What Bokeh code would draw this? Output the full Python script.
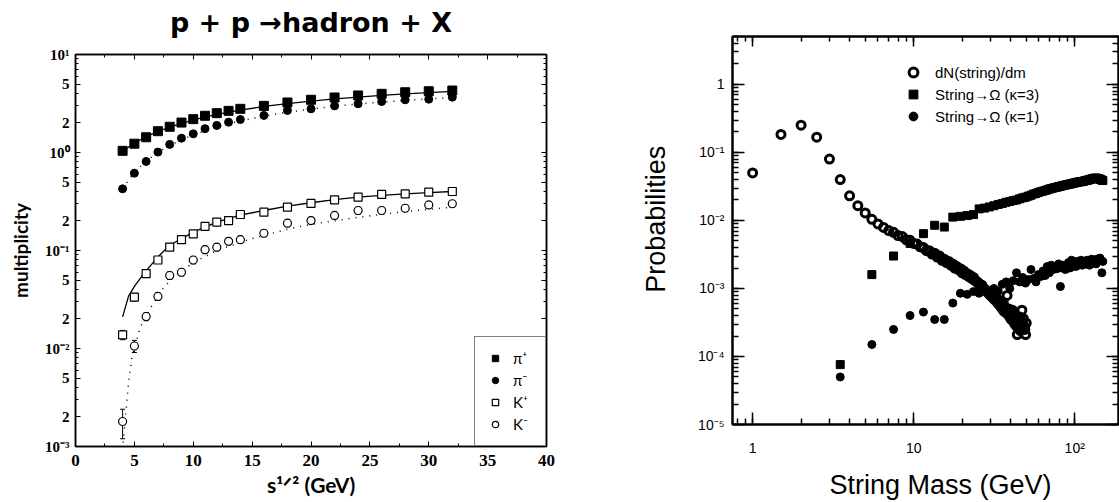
import math
from bokeh.plotting import figure
from bokeh.models import (FixedTicker, LinearAxis, LogAxis, Legend, LegendItem,
                          Whisker, TeeHead, ColumnDataSource, Range1d,
                          CustomJSTickFormatter)
from bokeh.layouts import row
from bokeh.embed import file_html
from bokeh.resources import INLINE

# ---------------- Left panel: p + p -> hadron + X ----------------
title_text = "p + p →hadron + X"
sqrt_s = [4, 5, 6, 7, 8, 9, 10, 11, 12, 13, 14, 16, 18, 20, 22, 24, 26, 28, 30, 32]
pi_plus = [1.04, 1.23, 1.43, 1.65, 1.83, 2.02, 2.19, 2.37, 2.52, 2.66, 2.79, 2.99,
           3.24, 3.45, 3.64, 3.82, 3.97, 4.12, 4.22, 4.29]
pi_minus = [0.426, 0.615, 0.81, 1.01, 1.21, 1.40, 1.55, 1.75, 1.89, 2.04, 2.17, 2.39,
            2.69, 2.79, 2.99, 3.14, 3.31, 3.45, 3.50, 3.67]
k_plus = [0.0138, 0.0334, 0.058, 0.080, 0.108, 0.129, 0.148, 0.176, 0.195, 0.202, 0.233,
          0.246, 0.277, 0.302, 0.329, 0.350, 0.373, 0.378, 0.394, 0.400]
k_plus_err = [0.0015, 0.003, 0.005, 0.006, 0.008, 0.009, 0.010, 0.012, 0.013, 0.013, 0.015,
              0.016, 0.018, 0.019, 0.021, 0.022, 0.023, 0.024, 0.025, 0.025]
k_minus = [0.0018, 0.0106, 0.0212, 0.034, 0.0556, 0.060, 0.080, 0.102, 0.108, 0.124, 0.129,
           0.150, 0.190, 0.202, 0.228, 0.256, 0.256, 0.270, 0.292, 0.300]
k_minus_err = [0.0006, 0.0015, 0.002, 0.003, 0.005, 0.005, 0.007, 0.009, 0.009, 0.010, 0.011,
               0.012, 0.015, 0.016, 0.018, 0.020, 0.020, 0.021, 0.023, 0.024]

model_pi_x = [4, 5, 6, 7, 8, 10, 12, 14, 16, 18, 20, 22, 24, 26, 28, 30, 32]
model_pi_plus = [1.03, 1.25, 1.45, 1.63, 1.82, 2.15, 2.45, 2.70, 2.95, 3.15, 3.35, 3.52,
                 3.68, 3.83, 3.97, 4.08, 4.20]
model_pi_minus = [0.43, 0.63, 0.82, 1.00, 1.18, 1.52, 1.82, 2.10, 2.35, 2.58, 2.78, 2.96,
                  3.12, 3.27, 3.40, 3.52, 3.63]
model_kp_x = [4, 4.5, 5, 5.8, 7, 8, 10, 12, 14, 16, 18, 20, 22, 24, 26, 28, 30, 32]
model_kp = [0.021, 0.034, 0.043, 0.058, 0.086, 0.113, 0.154, 0.195, 0.230, 0.256, 0.283,
            0.307, 0.330, 0.350, 0.366, 0.378, 0.390, 0.400]
model_km_x = [4.05, 4.5, 4.8, 5.5, 6.4, 7.5, 8.5, 10, 12, 14.6, 18, 20, 24, 28, 32]
model_km = [0.0011, 0.0044, 0.0082, 0.0165, 0.0263, 0.042, 0.056, 0.075, 0.100, 0.128,
            0.165, 0.185, 0.218, 0.250, 0.277]

left_legend_labels = ["π⁺", "π⁻", "K⁺", "K⁻"]
left_x_ticks = [0, 5, 10, 15, 20, 25, 30, 35, 40]
left_y_ticks = [0.001, 0.002, 0.005, 0.01, 0.02, 0.05, 0.1, 0.2, 0.5, 1.0, 2.0, 5.0, 10.0]
left_y_labels = ["10⁻³", "2", "5", "10⁻²", "2", "5", "10⁻¹", "2", "5", "10⁰", "2", "5", "10¹"]

# ---------------- Right panel: string mass probabilities ----------------
dn_mass = [1.0, 1.5, 2.0, 2.5, 3.0, 3.5, 4.0, 4.5, 5.0, 5.5, 6.0, 6.5, 7.0, 7.5, 8.0, 8.5,
           9.0, 9.5, 10.0, 10.5, 11.0, 11.5, 12.0, 12.5, 13.0, 13.5, 14.0, 14.5, 15.0, 15.5,
           16.0, 16.5, 17.0, 17.5, 18.0, 18.5, 19.0, 19.5, 20.0, 20.5, 21.0, 21.5, 22.0, 22.5,
           23.0, 23.5, 24.0, 24.5, 25.0, 25.5, 26.0, 26.5, 27.0, 27.5, 28.0, 28.5, 29.0, 29.5,
           30.0, 30.5, 31.0, 31.5, 32.0, 32.5, 33.0, 33.5, 34.0, 34.5, 35.0, 35.5, 36.0, 36.5,
           37.0, 37.5, 38.0, 38.5, 39.0, 39.5, 40.0, 40.5, 41.0, 41.5, 42.0, 42.5, 43.0, 43.5,
           44.0, 44.5, 45.0, 45.5, 46.0, 46.5, 47.0, 47.5, 48.0, 48.5, 49.0, 49.5, 50.0]
dn_prob = [0.050, 0.184, 0.252, 0.168, 0.080, 0.040, 0.023, 0.0165, 0.0129, 0.0104, 0.0089,
           0.0079, 0.0071, 0.0067, 0.0060, 0.0058, 0.0052, 0.0051, 0.0046, 0.0045, 0.0041,
           0.0040, 0.0036, 0.0036, 0.0032, 0.0033, 0.0029, 0.0030, 0.0026, 0.0027, 0.0024,
           0.0025, 0.0022, 0.0023, 0.0020, 0.0021, 0.0019, 0.00195, 0.0017, 0.0018, 0.0016,
           0.00165, 0.0015, 0.00155, 0.0014, 0.00145, 0.0013, 0.00128, 0.00122, 0.00118,
           0.00108, 0.00112, 0.00102, 0.00098, 0.00095, 0.00090, 0.00088, 0.00082, 0.00086,
           0.00076, 0.00080, 0.00070, 0.00074, 0.00066, 0.00071, 0.00060, 0.00065, 0.00055,
           0.00060, 0.00050, 0.00062, 0.00046, 0.00052, 0.00044, 0.00079, 0.00042, 0.00050,
           0.00038, 0.00046, 0.00035, 0.00048, 0.00033, 0.00042, 0.00030, 0.00040, 0.00028,
           0.00021, 0.00034, 0.00026, 0.00038, 0.00024, 0.00030, 0.00048, 0.00026, 0.00036,
           0.00028, 0.00025, 0.00021, 0.00031]
omega_mass = [3.5, 5.5, 7.5, 9.5, 11.5, 13.5, 15.5, 17.5, 19.5, 21.5, 23.5, 25.5, 27.5, 29.5,
              31.5, 33.5, 35.5, 37.5, 39.5, 41.5, 43.5, 45.5, 47.5, 49.5, 51.5, 53.5, 55.5,
              57.5, 59.5, 61.5, 63.5, 65.5, 67.5, 69.5, 71.5, 73.5, 75.5, 77.5, 79.5, 81.5,
              83.5, 85.5, 87.5, 89.5, 91.5, 93.5, 95.5, 97.5, 99.5, 101.5, 103.5, 105.5,
              107.5, 109.5, 111.5, 113.5, 115.5, 117.5, 119.5, 121.5, 123.5, 125.5, 127.5,
              129.5, 131.5, 133.5, 135.5, 137.5, 139.5, 141.5, 143.5, 145.5, 147.5, 149.5]
omega_k3 = [7.6e-5, 1.6e-3, 3.0e-3, 4.6e-3, 6.4e-3, 8.5e-3, 8.0e-3, 0.0112, 0.0115, 0.0118,
            0.0122, 0.0148, 0.0152, 0.0158, 0.0165, 0.0172, 0.0178, 0.0185, 0.0190, 0.0196,
            0.0200, 0.0208, 0.0215, 0.0220, 0.0228, 0.0235, 0.0245, 0.0250, 0.0258, 0.0265,
            0.0270, 0.0276, 0.0282, 0.0290, 0.0294, 0.0300, 0.0305, 0.0308, 0.0315, 0.0318,
            0.0324, 0.0328, 0.0332, 0.0336, 0.0340, 0.0343, 0.0348, 0.0352, 0.0356, 0.0360,
            0.0364, 0.0367, 0.0370, 0.0374, 0.0372, 0.0378, 0.0383, 0.0387, 0.0390, 0.0394,
            0.0398, 0.0403, 0.0408, 0.0412, 0.0416, 0.0418, 0.0420, 0.0418, 0.0414, 0.0410,
            0.0404, 0.0398, 0.0392, 0.0386]
omega_k1 = [5.0e-5, 1.5e-4, 2.5e-4, 4.0e-4, 4.5e-4, 3.5e-4, 3.5e-4, 6.1e-4, 8.5e-4, 8.2e-4,
            9.0e-4, 8.5e-4, 9.5e-4, 8.8e-4, 1.0e-3, 9.2e-4, 1.15e-3, 1.25e-3, 1.0e-3, 1.3e-3,
            1.7e-3, 1.25e-3, 1.45e-3, 1.2e-3, 1.35e-3, 1.9e-3, 1.4e-3, 1.25e-3, 1.6e-3, 1.5e-3,
            1.8e-3, 1.55e-3, 2.1e-3, 1.7e-3, 2.2e-3, 1.9e-3, 2.0e-3, 1.95e-3, 2.3e-3, 1.07e-3,
            2.0e-3, 2.2e-3, 1.9e-3, 2.1e-3, 2.4e-3, 2.0e-3, 2.6e-3, 2.2e-3, 2.3e-3, 2.1e-3,
            2.5e-3, 2.2e-3, 2.4e-3, 2.6e-3, 2.2e-3, 2.4e-3, 2.5e-3, 2.3e-3, 2.6e-3, 2.4e-3,
            2.2e-3, 2.5e-3, 2.7e-3, 2.4e-3, 2.5e-3, 2.6e-3, 2.3e-3, 2.7e-3, 2.5e-3, 2.6e-3,
            2.8e-3, 2.6e-3, 1.7e-3, 2.5e-3]
right_legend_labels = ["dN(string)/dm", "String→Ω (κ=3)", "String→Ω (κ=1)"]
right_x_ticks = [1.0, 10.0, 100.0]
right_x_labels = ["1", "10", "10²"]
right_y_ticks = [1e-05, 0.0001, 0.001, 0.01, 0.1, 1.0]
right_y_labels = ["10⁻⁵", "10⁻⁴", "10⁻³", "10⁻²", "10⁻¹", "1"]

SERIF = "Liberation Serif"
SANSB = "Lato"
ROOT = "Liberation Sans"
NBSP = "\u00a0"


def log_minors(lo, hi):
    out = []
    for e in range(lo, hi + 1):
        for k in range(1, 10):
            out.append(float(f"{k}e{e}"))
    return out


def blank(ax):
    ax.formatter = CustomJSTickFormatter(code="return ''")
    ax.major_label_text_font_size = "0px"
    ax.major_label_standoff = 0


def ticks_in(ax, major, minor, width=1):
    ax.major_tick_in = major
    ax.major_tick_out = 0
    ax.minor_tick_in = minor
    ax.minor_tick_out = 0
    ax.major_tick_line_color = "black"
    ax.minor_tick_line_color = "black"
    ax.major_tick_line_width = width
    ax.minor_tick_line_width = width
    ax.axis_line_color = "black"
    ax.axis_line_width = width + 0.5
    ax.major_label_text_color = "black"
    ax.axis_label_text_color = "black"


# ======================= LEFT FIGURE =======================
p1 = figure(width=600, height=502, x_range=Range1d(0, 40), y_range=Range1d(1e-3, 10),
            y_axis_type="log", output_backend="svg", toolbar_location=None, title=None,
            min_border_left=75, min_border_right=54, min_border_top=54, min_border_bottom=56)
p1.frame_align = False
p1.grid.visible = False
p1.outline_line_color = "black"
p1.outline_line_width = 1.5

xt1 = FixedTicker(ticks=left_x_ticks, minor_ticks=[2.5, 7.5, 12.5, 17.5, 22.5, 27.5, 32.5, 37.5])
yt1 = FixedTicker(ticks=left_y_ticks, minor_ticks=log_minors(-3, 0) + [10.0])

xa = p1.xaxis[0]
xa.ticker = xt1
ticks_in(xa, 5, 3)
xa.major_label_text_font = SERIF
xa.major_label_text_font_style = "bold"
xa.major_label_text_font_size = "17px"
xa.major_label_standoff = 8
xa.axis_label = "s¹ᐟ² (GeV)"
xa.axis_label_text_font = SANSB
xa.axis_label_text_font_style = "bold"
xa.axis_label_text_font_size = "21px"
xa.axis_label_standoff = 3

ya = p1.yaxis[0]
ya.ticker = yt1
ticks_in(ya, 5, 3)
ya.major_label_text_font = SERIF
ya.major_label_text_font_style = "bold"
ya.major_label_text_font_size = "15px"
ya.major_label_standoff = 6
ya.major_label_overrides = {t: s for t, s in zip(left_y_ticks, left_y_labels)}
ya.axis_label = "multiplicity"
ya.axis_label_text_font = SANSB
ya.axis_label_text_font_style = "bold"
ya.axis_label_text_font_size = "19px"
ya.axis_label_standoff = 10

# top axis: ticks only, carries the panel title as its label
top1 = LinearAxis(ticker=xt1)
ticks_in(top1, 5, 3)
blank(top1)
top1.axis_label = title_text
top1.axis_label_text_font = "DejaVu Sans"
top1.axis_label_text_font_style = "bold"
top1.axis_label_text_font_size = "27px"
top1.axis_label_text_color = "black"
top1.axis_label_standoff = 17
p1.add_layout(top1, "above")
right1 = LogAxis(ticker=yt1)
ticks_in(right1, 5, 3)
blank(right1)
p1.add_layout(right1, "right")

p1.line(model_pi_x, model_pi_plus, line_color="black", line_width=1.3)
p1.line(model_pi_x, model_pi_minus, line_color="black", line_width=1.5, line_dash="1 6")
p1.line(model_kp_x, model_kp, line_color="black", line_width=1.3)
p1.line(model_km_x, model_km, line_color="black", line_width=1.5, line_dash="1 6")

r_pp = p1.scatter(sqrt_s, pi_plus, marker="square", size=9, color="black")
r_pm = p1.scatter(sqrt_s, pi_minus, marker="circle", size=8, color="black")
r_kp = p1.scatter(sqrt_s, k_plus, marker="square", size=8, fill_color="white",
                  line_color="black", line_width=1.2)
r_km = p1.scatter(sqrt_s, k_minus, marker="circle", size=8, fill_color="white",
                  line_color="black", line_width=1.2)

src_kp = ColumnDataSource(dict(x=sqrt_s,
                               lo=[v - e for v, e in zip(k_plus, k_plus_err)],
                               hi=[v + e for v, e in zip(k_plus, k_plus_err)]))
src_km = ColumnDataSource(dict(x=sqrt_s,
                               lo=[v - e for v, e in zip(k_minus, k_minus_err)],
                               hi=[v + e for v, e in zip(k_minus, k_minus_err)]))
for s in (src_kp, src_km):
    p1.add_layout(Whisker(source=s, base="x", lower="lo", upper="hi", line_color="black",
                          line_width=1,
                          lower_head=TeeHead(size=5, line_color="black", line_width=1),
                          upper_head=TeeHead(size=5, line_color="black", line_width=1)))

leg1 = Legend(items=[LegendItem(label=l, renderers=[r]) for l, r in
                     zip(left_legend_labels, [r_pp, r_pm, r_kp, r_km])],
              location="bottom_right", margin=0, padding=12, spacing=4,
              glyph_width=16, glyph_height=16, label_standoff=10,
              label_text_font=SANSB, label_text_font_size="15px", label_height=16,
              label_text_color="black",
              border_line_color="black", border_line_width=1,
              background_fill_color="white", background_fill_alpha=1)
p1.add_layout(leg1)

# ======================= RIGHT FIGURE =======================
p2 = figure(width=519, height=502, x_axis_type="log", y_axis_type="log",
            x_range=Range1d(0.75, 187), y_range=Range1d(1e-5, 5.07),
            output_backend="svg", toolbar_location=None, title=None,
            min_border_left=132, min_border_right=1, min_border_top=36, min_border_bottom=75)
p2.frame_align = False
p2.grid.visible = False
p2.outline_line_color = "black"
p2.outline_line_width = 2

xt2 = FixedTicker(ticks=right_x_ticks, minor_ticks=[0.8, 0.9] + log_minors(0, 2))
yt2 = FixedTicker(ticks=right_y_ticks, minor_ticks=log_minors(-5, 0))

xb = p2.xaxis[0]
xb.ticker = xt2
ticks_in(xb, 12, 6, 1.5)
xb.major_label_text_font = ROOT
xb.major_label_text_font_size = "14px"
xb.major_label_standoff = 15
xb.major_label_overrides = {t: s for t, s in zip(right_x_ticks, right_x_labels)}
xb.axis_label = NBSP * 4 + "String Mass (GeV)"
xb.axis_label_text_font = ROOT
xb.axis_label_text_font_style = "normal"
xb.axis_label_text_font_size = "27px"
xb.axis_label_standoff = 11

yb = p2.yaxis[0]
yb.ticker = yt2
ticks_in(yb, 12, 6, 1.5)
yb.major_label_text_font = ROOT
yb.major_label_text_font_size = "14px"
yb.major_label_standoff = 8
yb.major_label_overrides = {t: s for t, s in zip(right_y_ticks, right_y_labels)}
yb.axis_label = NBSP * 3 + "Probabilities"
yb.axis_label_text_font = ROOT
yb.axis_label_text_font_style = "normal"
yb.axis_label_text_font_size = "27px"
yb.axis_label_standoff = 24

top2 = LogAxis(ticker=xt2)
ticks_in(top2, 10, 5, 1.5)
blank(top2)
p2.add_layout(top2, "above")
right2 = LogAxis(ticker=yt2)
ticks_in(right2, 12, 6, 1.5)
blank(right2)
p2.add_layout(right2, "right")

r_dn = p2.scatter(dn_mass, dn_prob, marker="circle", size=8, fill_color=None,
                  line_color="black", line_width=3)
r_k3 = p2.scatter(omega_mass, omega_k3, marker="square", size=8, color="black")
r_k1 = p2.scatter(omega_mass, omega_k1, marker="circle", size=8, color="black")

leg2 = Legend(items=[LegendItem(label=l, renderers=[r]) for l, r in
                     zip(right_legend_labels, [r_dn, r_k3, r_k1])],
              location=(167, 297), padding=0, spacing=0, margin=0,
              glyph_width=28, glyph_height=22, label_standoff=8, label_height=20,
              label_text_font=ROOT, label_text_font_size="15px", label_text_color="black",
              border_line_color=None, background_fill_alpha=0)
p2.add_layout(leg2)

layout = row(p1, p2)
open("out.html", "w").write(file_html(layout, INLINE))
